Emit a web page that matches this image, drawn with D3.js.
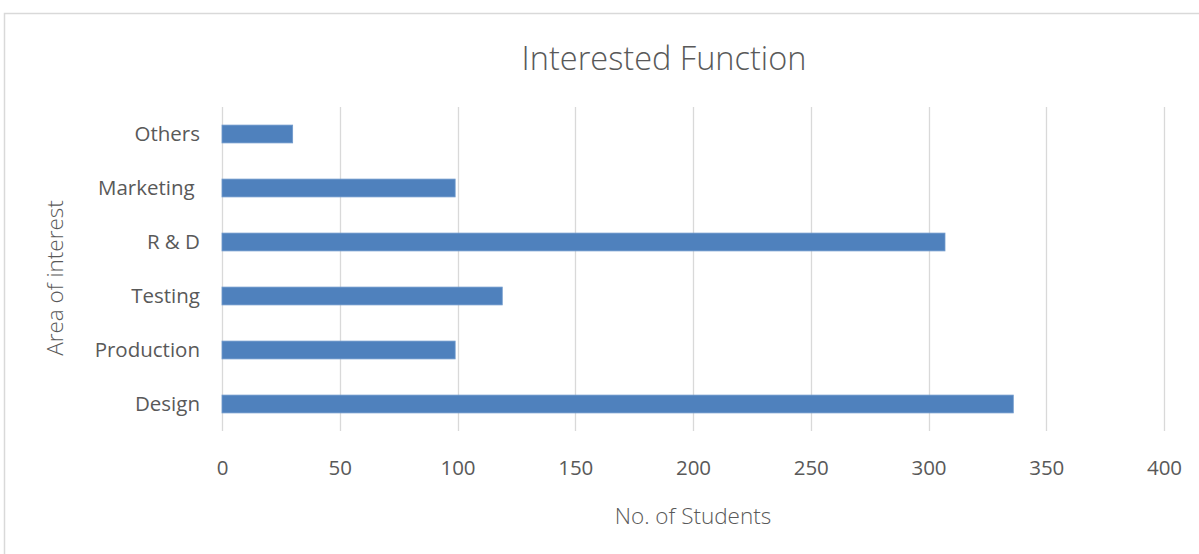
<!DOCTYPE html>
<html>
<head>
<meta charset="utf-8">
<script src="https://cdn.jsdelivr.net/npm/d3@7/dist/d3.min.js"></script>
<style>
  html, body { margin: 0; padding: 0; background: #fff; }
  svg { display: block; font-family: "Open Sans", sans-serif; }
</style>
</head>
<body>
<svg id="chart" width="1199" height="554"></svg>
<script>
// Students by area of interest (bottom to top in the chart)
const categories = ["Design", "Production", "Testing", "R & D", "Marketing ", "Others"];
const students = [336, 99, 119, 307, 99, 30];
const xTicks = [0, 50, 100, 150, 200, 250, 300, 350, 400];

const svg = d3.select("#chart");
const W = 1199, H = 554;
const plot = { left: 222, right: 1164, top: 107, bottom: 431 };

// Chart frame
svg.append("rect")
  .attr("x", 4.5).attr("y", 13.5)
  .attr("width", W + 20).attr("height", H + 20)
  .attr("fill", "#fff").attr("stroke", "#d9d9d9").attr("stroke-width", 1.5);

const x = d3.scaleLinear().domain([0, 400]).range([plot.left, plot.right]);
const y = d3.scaleBand()
  .domain(categories.slice().reverse())
  .range([plot.top, plot.bottom])
  .paddingInner(0.67).paddingOuter(0.335);

// Vertical gridlines
svg.append("g")
  .selectAll("line").data(xTicks).join("line")
  .attr("x1", d => Math.round(x(d)) + 0.5).attr("x2", d => Math.round(x(d)) + 0.5)
  .attr("y1", plot.top).attr("y2", plot.bottom)
  .attr("stroke", "#d9d9d9").attr("stroke-width", 1.3);

// Bars
svg.append("g")
  .selectAll("rect").data(categories).join("rect")
  .attr("x", x(0))
  .attr("y", d => y(d))
  .attr("width", (d, i) => x(students[i]) - x(0))
  .attr("height", y.bandwidth())
  .attr("fill", "#4f81bd")
  .attr("stroke", "#6f99cc").attr("stroke-width", 0.8);

// X axis labels
const xAxis = svg.append("g")
  .attr("transform", `translate(0,${plot.bottom})`)
  .call(d3.axisBottom(x).tickValues(xTicks).tickSize(0).tickPadding(29));
xAxis.select(".domain").remove();
xAxis.selectAll("text")
  .attr("fill", "#595959").attr("font-size", 20.5)
  .attr("font-family", "Open Sans, sans-serif");

// Y axis labels
const yAxis = svg.append("g")
  .attr("transform", `translate(${plot.left},0)`)
  .call(d3.axisLeft(y).tickSize(0).tickPadding(22));
yAxis.select(".domain").remove();
yAxis.selectAll("text")
  .attr("fill", "#595959").attr("font-size", 20.5)
  .attr("font-family", "Open Sans, sans-serif")
  .style("white-space", "pre");

// Title
svg.append("text")
  .attr("x", 664).attr("y", 70)
  .attr("text-anchor", "middle")
  .attr("font-size", 32.5).attr("font-weight", 300)
  .attr("fill", "#595959")
  .text("Interested Function");

// Axis titles
svg.append("text")
  .attr("x", 693).attr("y", 524)
  .attr("text-anchor", "middle")
  .attr("font-size", 22.5).attr("font-weight", 300)
  .attr("fill", "#595959")
  .text("No. of Students");

svg.append("text")
  .attr("transform", "translate(63,278) rotate(-90)")
  .attr("text-anchor", "middle")
  .attr("font-size", 22.5).attr("font-weight", 300)
  .attr("fill", "#595959")
  .text("Area of interest");
</script>
</body>
</html>
